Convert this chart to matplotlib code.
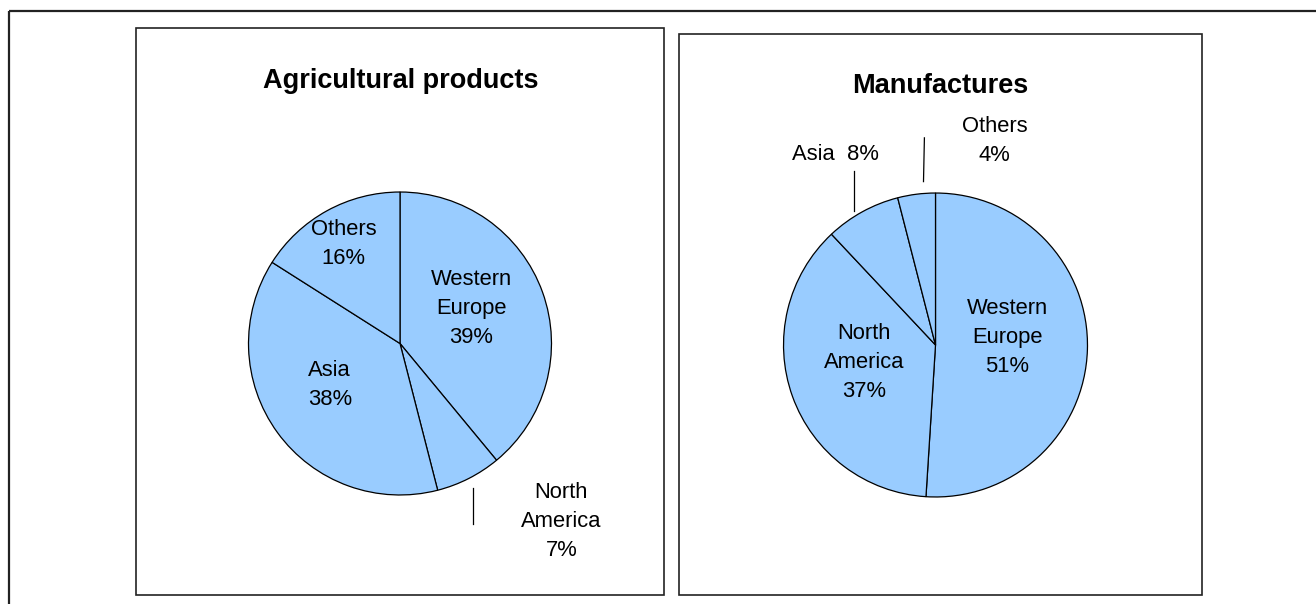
import matplotlib
matplotlib.use('Agg')
import numpy as np
import matplotlib.pyplot as plt
from matplotlib.patches import Rectangle

plt.rcParams['font.family'] = ['Liberation Sans', 'DejaVu Sans']

# Data
agri_names = ['Western Europe', 'North America', 'Asia', 'Others']
agri_values = [39, 7, 38, 16]
manu_names = ['Western Europe', 'North America', 'Asia', 'Others']
manu_values = [51, 37, 8, 4]

W, H = 1316, 604
fig = plt.figure(figsize=(W / 100, H / 100), dpi=100)

# background axes in pixel coordinates, for the frames and titles
bg = fig.add_axes([0, 0, 1, 1])
bg.set_xlim(0, W)
bg.set_ylim(H, 0)
bg.axis('off')

# outer frame (runs off the right and bottom edges)
bg.add_patch(Rectangle((9, 11), W, H, fill=False, lw=1.6, ec='#222222'))
# panel frames
bg.add_patch(Rectangle((136, 28), 528, 567, fill=False, lw=1.2, ec='#222222'))
bg.add_patch(Rectangle((679, 34), 523, 561, fill=False, lw=1.2, ec='#222222'))

bg.text(401, 81, 'Agricultural products', ha='center', va='center',
        fontsize=19.5, fontweight='bold')
bg.text(940, 86, 'Manufactures', ha='center', va='center',
        fontsize=19.5, fontweight='bold')


def pie_axes(cx, cy, r):
    ax = fig.add_axes([(cx - r) / W, (H - cy - r) / H, 2 * r / W, 2 * r / H])
    ax.set_xlim(-1, 1)
    ax.set_ylim(-1, 1)
    ax.axis('off')
    return ax


def draw_pie(ax, names, values, label_pos, one_line, leaders):
    ax.pie(values, startangle=90, counterclock=False, radius=1,
           colors=['#99ccff'] * len(values),
           wedgeprops=dict(edgecolor='black', linewidth=0.9))
    for name, v, pos, single in zip(names, values, label_pos, one_line):
        if single:
            txt = '{}  {}%'.format(name, v)
        else:
            txt = '{}\n{}%'.format(name.replace(' ', '\n'), v)
        ax.text(pos[0], pos[1], txt, ha='center', va='center',
                fontsize=15.8, linespacing=1.5)
    for (x0, y0), (x1, y1) in leaders:
        ax.plot([x0, x1], [y0, y1], color='black', lw=0.9, clip_on=False)
    ax.set_xlim(-1.01, 1.01)
    ax.set_ylim(-1.01, 1.01)


ax1 = pie_axes(400, 343.5, 153)
draw_pie(ax1, agri_names, agri_values,
         [(0.471, 0.232), (1.065, -1.176), (-0.464, -0.275), (-0.373, 0.655)],
         [False, False, False, False],
         [((0.484, -0.951), (0.484, -1.193))])

ax2 = pie_axes(935.5, 345, 153.5)
draw_pie(ax2, manu_names, manu_values,
         [(0.472, 0.050), (-0.472, -0.114), (-0.661, 1.255), (0.387, 1.345)],
         [False, False, True, False],
         [((-0.538, 1.147), (-0.538, 0.879)),
          ((-0.073, 1.363), (-0.079, 1.075))])

fig.savefig('out.png', dpi=100)
